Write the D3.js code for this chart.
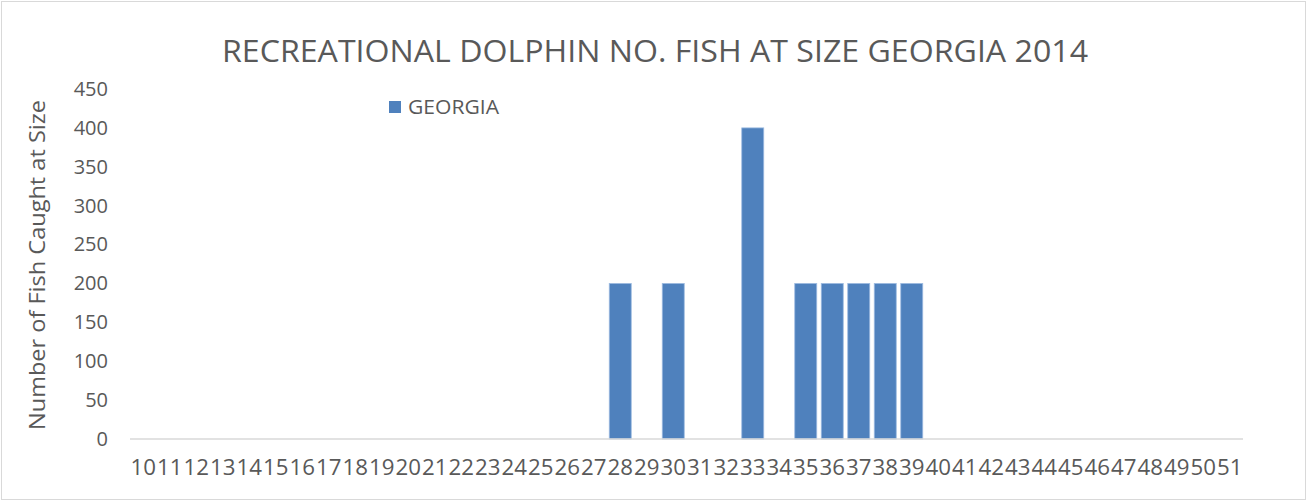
<!DOCTYPE html>
<html>
<head>
<meta charset="utf-8">
<script src="https://cdn.jsdelivr.net/npm/d3@7"></script>
<style>
  html, body { margin: 0; padding: 0; background: #fff; }
  svg text { font-family: "Open Sans", "Liberation Sans", sans-serif; fill: #595959; }
</style>
</head>
<body>
<svg id="chart" width="1307" height="502"></svg>
<script>
const categories = ["10","11","12","13","14","15","16","17","18","19","20","21","22","23","24","25","26","27","28","29","30","31","32","33","34","35","36","37","38","39","40","41","42","43","44","45","46","47","48","49","50","51"];
const georgia    = [0,0,0,0,0,0,0,0,0,0,0,0,0,0,0,0,0,0,200,0,200,0,0,400,0,200,200,200,200,200,0,0,0,0,0,0,0,0,0,0,0,0];
const yTicks     = [0,50,100,150,200,250,300,350,400,450];
const titleText  = "RECREATIONAL DOLPHIN NO. FISH AT SIZE GEORGIA 2014";
const yLabel     = "Number of Fish Caught at Size";
const seriesName = "GEORGIA";

const svg = d3.select("#chart");
const W = 1307, H = 502;
const margin = {left: 130, right: 64, top: 89, bottom: 63};

svg.append("rect").attr("x", 1.5).attr("y", 1.5).attr("width", W - 3).attr("height", H - 4)
  .attr("fill", "#fff").attr("stroke", "#d9d9d9").attr("stroke-width", 1);

const x = d3.scaleBand().domain(categories).range([margin.left, W - margin.right]).paddingInner(0.17).paddingOuter(0.085);
const y = d3.scaleLinear().domain([0, 450]).range([H - margin.bottom, margin.top]);

// title
svg.append("text").attr("x", 655).attr("y", 62).attr("text-anchor", "middle")
  .attr("font-size", 31).attr("textLength", 866).attr("lengthAdjust", "spacingAndGlyphs")
  .text(titleText);

// y axis label
svg.append("text").attr("transform", `translate(45,${265}) rotate(-90)`).attr("text-anchor", "middle")
  .attr("font-size", 22).attr("textLength", 330).attr("lengthAdjust", "spacingAndGlyphs")
  .text(yLabel);

// y axis ticks (labels only)
const yAxis = d3.axisLeft(y).tickValues(yTicks).tickSize(0).tickPadding(22);
const yg = svg.append("g").attr("transform", `translate(${margin.left},0)`).call(yAxis);
yg.select(".domain").remove();
yg.selectAll("text").attr("font-size", 20).attr("fill", "#595959")
  .style("font-family", "'Open Sans', 'Liberation Sans', sans-serif");

// bars
svg.append("g").selectAll("rect").data(categories.map((c, i) => ({c, v: georgia[i]})).filter(d => d.v > 0))
  .join("rect")
  .attr("x", d => x(d.c)).attr("width", x.bandwidth())
  .attr("y", d => y(d.v)).attr("height", d => y(0) - y(d.v))
  .attr("fill", "#4f81bd").attr("stroke", "#9dbbe0").attr("stroke-width", 0.8);

// baseline
svg.append("line").attr("x1", margin.left).attr("x2", W - margin.right)
  .attr("y1", y(0)).attr("y2", y(0)).attr("stroke", "#d9d9d9").attr("stroke-width", 1.5);

// x axis labels
const xAxis = d3.axisBottom(x).tickSize(0).tickPadding(20);
const xg = svg.append("g").attr("transform", `translate(0,${y(0)})`).call(xAxis);
xg.select(".domain").remove();
xg.selectAll("text").attr("font-size", 22).attr("fill", "#595959")
  .attr("textLength", x.step() - 1).attr("lengthAdjust", "spacingAndGlyphs")
  .style("font-family", "'Open Sans', 'Liberation Sans', sans-serif");

// legend
const lg = svg.append("g").attr("transform", "translate(389,101)");
lg.append("rect").attr("width", 12).attr("height", 12).attr("fill", "#4f81bd");
lg.append("text").attr("x", 19).attr("y", 6).attr("dy", "0.35em").attr("font-size", 20)
  .attr("textLength", 91).attr("lengthAdjust", "spacingAndGlyphs").text(seriesName);
</script>
</body>
</html>
